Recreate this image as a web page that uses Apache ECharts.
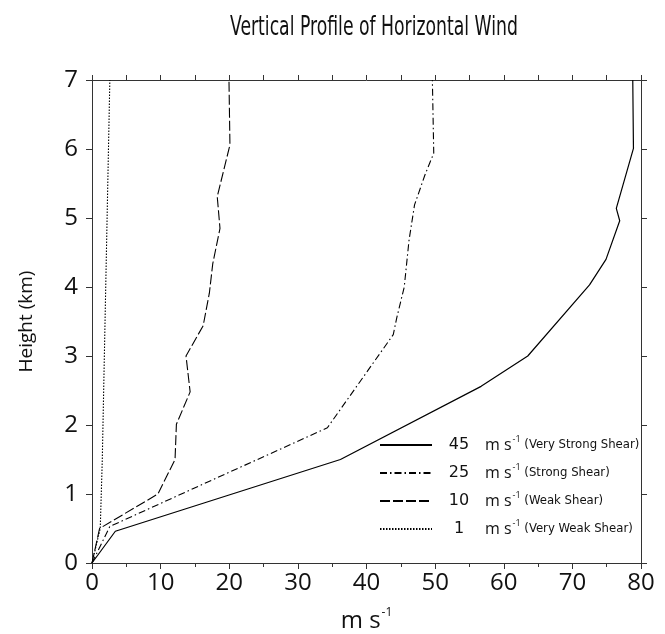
<!DOCTYPE html>
<html>
<head>
<meta charset="utf-8">
<script src="https://cdn.jsdelivr.net/npm/echarts@6/dist/echarts.min.js"></script>
<style>
html,body{margin:0;padding:0;background:#fff;}
#chart{width:665px;height:634px;}
</style>
</head>
<body>
<div id="chart"></div>
<script>
// Data (speed in m/s, height in km)
var seriesNames = ['45', '25', '10', '1'];
var seriesDesc = ['(Very Strong Shear)', '(Strong Shear)', '(Weak Shear)', '(Very Weak Shear)'];

var veryStrongX = [0, 3.4, 36.2, 56.7, 63.5, 72.5, 74.9, 76.9, 76.4, 78.9, 78.8];
var veryStrongH = [0, 0.46, 1.50, 2.56, 3.00, 4.03, 4.40, 4.96, 5.14, 6.01, 7.00];

var strongX = [0, 2.6, 34.3, 43.9, 44.4, 45.5, 46.2, 47.0, 48.5, 49.8, 49.6];
var strongH = [0, 0.53, 1.96, 3.31, 3.55, 4.00, 4.68, 5.19, 5.62, 5.94, 7.00];

var weakX = [0, 1.1, 9.6, 12.1, 12.3, 14.3, 13.7, 16.2, 17.1, 17.6, 18.65, 18.25, 20.1, 19.96];
var weakH = [0, 0.50, 1.00, 1.50, 2.01, 2.48, 3.00, 3.44, 3.91, 4.34, 4.85, 5.31, 6.06, 7.00];

var veryWeakX = [0, 1.2, 1.5, 1.8, 2.1, 2.4, 2.6];
var veryWeakH = [0, 0.5, 1.5, 3.0, 4.5, 6.0, 7.0];

var xTicks = [0, 10, 20, 30, 40, 50, 60, 70, 80];
var yTicks = [0, 1, 2, 3, 4, 5, 6, 7];
var titleText = 'Vertical Profile of Horizontal Wind';

function zip(xs, hs) { return xs.map(function (x, i) { return [x, hs[i]]; }); }

var chart = echarts.init(document.getElementById('chart'), null, {renderer: 'canvas'});
var axisColor = '#333';
var tickFont = "'Open Sans', 'Noto Sans', sans-serif";
var condFont = "'DejaVu Sans Condensed', 'Liberation Sans Narrow', sans-serif";

function lineSeries(name, data, type, width) {
  return {
    name: name, type: 'line', data: data, symbol: 'none', showSymbol: false, animation: false,
    lineStyle: {color: '#000', width: width, type: type},
    itemStyle: {color: '#000'}
  };
}

var option = {
  backgroundColor: '#fff',
  animation: false,
  graphic: [{
    type: 'text', x: 374, y: 28, scaleX: 0.71, scaleY: 1, originX: 0, originY: 0,
    style: {
      text: titleText, x: 0, y: 0, align: 'center', verticalAlign: 'middle',
      font: "normal 27px 'DejaVu Sans Condensed', sans-serif", fill: '#111'
    }
  }],
  grid: {left: 92, right: 24, top: 80, bottom: 71, containLabel: false, outerBoundsMode: 'none'},
  legend: {
    orient: 'vertical', left: 374, top: 430,
    itemWidth: 52, itemHeight: 14, itemGap: 10,
    data: seriesNames,
    itemStyle: {opacity: 0},
    formatter: function (name) {
      var i = seriesNames.indexOf(name);
      return '{n|' + name + '}{u|m s}{s|-1}{d| ' + seriesDesc[i] + '}';
    },
    textStyle: {
      color: '#111',
      rich: {
        n: {width: 44, align: 'center', fontFamily: "'DejaVu Sans', sans-serif", fontSize: 16, lineHeight: 20},
        u: {fontFamily: tickFont, fontSize: 16, lineHeight: 20, padding: [0, 0, 0, 4]},
        s: {fontFamily: tickFont, fontSize: 9, lineHeight: 20, verticalAlign: 'top', padding: [0, 0, 0, 1]},
        d: {fontFamily: condFont, fontSize: 13, lineHeight: 20}
      }
    }
  },
  xAxis: [
    {
      type: 'value', position: 'bottom', min: 0, max: 80, interval: 10,
      axisLine: {show: true, lineStyle: {color: axisColor, width: 1}},
      axisTick: {show: true, inside: false, length: 6, lineStyle: {color: axisColor}},
      minorTick: {show: true, splitNumber: 2, length: 4, lineStyle: {color: axisColor}},
      splitLine: {show: false},
      axisLabel: {
        margin: 8, fontFamily: tickFont, fontSize: 24, color: '#111',
        formatter: function (v) { return xTicks.indexOf(v) >= 0 ? String(v) : ''; }
      },
      name: '{a|m s}{s|-1}', nameLocation: 'middle', nameGap: 44,
      nameTextStyle: {
        rich: {
          a: {fontFamily: tickFont, fontSize: 24, color: '#111', lineHeight: 28},
          s: {fontFamily: tickFont, fontSize: 12, color: '#111', lineHeight: 28, verticalAlign: 'top', padding: [0, 0, 0, 1]}
        }
      }
    },
    {
      type: 'value', position: 'top', min: 0, max: 80, interval: 5,
      axisLine: {show: true, onZero: false, lineStyle: {color: axisColor, width: 1}},
      axisTick: {show: true, inside: false, length: 5, lineStyle: {color: axisColor}},
      axisLabel: {show: false}, splitLine: {show: false}
    }
  ],
  yAxis: [
    {
      type: 'value', position: 'left', min: 0, max: 7, interval: 1,
      axisLine: {show: true, lineStyle: {color: axisColor, width: 1}},
      axisTick: {show: true, inside: false, length: 6, lineStyle: {color: axisColor}},
      splitLine: {show: false},
      axisLabel: {
        margin: 14, fontFamily: tickFont, fontSize: 24, color: '#111',
        formatter: function (v) { return yTicks.indexOf(v) >= 0 ? String(v) : ''; }
      },
      name: 'Height (km)', nameLocation: 'middle', nameGap: 56,
      nameTextStyle: {fontFamily: tickFont, fontSize: 19, color: '#111'}
    },
    {
      type: 'value', position: 'right', min: 0, max: 7, interval: 1,
      axisLine: {show: true, onZero: false, lineStyle: {color: axisColor, width: 1}},
      axisTick: {show: true, inside: false, length: 6, lineStyle: {color: axisColor}},
      axisLabel: {show: false}, splitLine: {show: false}
    }
  ],
  series: [
    lineSeries('45', zip(veryStrongX, veryStrongH), 'solid', 1.2),
    lineSeries('25', zip(strongX, strongH), [7, 3, 1.5, 3], 1.1),
    lineSeries('10', zip(weakX, weakH), [10, 3], 1.1),
    lineSeries('1', zip(veryWeakX, veryWeakH), [1.5, 1.5], 1.1)
  ]
};
chart.setOption(option);
</script>
</body>
</html>
